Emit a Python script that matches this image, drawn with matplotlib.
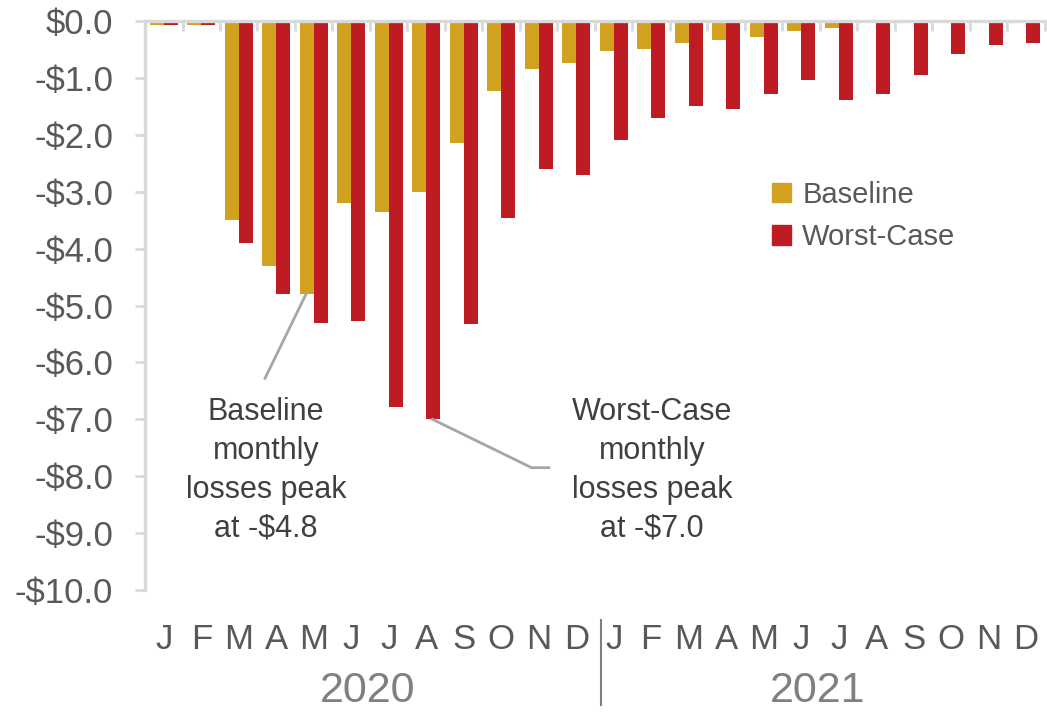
import matplotlib
matplotlib.use('Agg')
import matplotlib.pyplot as plt
import matplotlib.transforms as mtransforms
from matplotlib.patches import Patch

plt.rcParams['font.family'] = ['Liberation Sans', 'DejaVu Sans']

months = ['J', 'F', 'M', 'A', 'M', 'J', 'J', 'A', 'S', 'O', 'N', 'D'] * 2
years = ['2020', '2021']
baseline = [-0.07, -0.07, -3.5, -4.3, -4.8, -3.2, -3.35, -3.0, -2.15, -1.23, -0.84, -0.74,
            -0.53, -0.49, -0.38, -0.33, -0.28, -0.18, -0.13, 0.0, 0.0, 0.0, 0.0, 0.0]
worst = [-0.07, -0.07, -3.9, -4.8, -5.3, -5.27, -6.78, -7.0, -5.32, -3.46, -2.6, -2.7,
         -2.09, -1.7, -1.49, -1.54, -1.29, -1.04, -1.39, -1.29, -0.94, -0.58, -0.43, -0.39]
yticks = [0, -1, -2, -3, -4, -5, -6, -7, -8, -9, -10]

gold = '#D1A11F'
red = '#BE1B22'
grid_c = '#D9D9D9'
txt = '#595959'

fig = plt.figure(figsize=(10.47, 7.15), dpi=100)
ax = fig.add_axes([0.1385, 0.1748, 0.8595, 0.7958])

w = 0.373
xs = [i + 0.5 for i in range(len(months))]
ax.bar([x - w / 2 for x in xs], baseline, width=w, color=gold, label='Baseline')
ax.bar([x + w / 2 for x in xs], worst, width=w, color=red, label='Worst-Case')

ax.set_xlim(0, 24)
ax.set_ylim(-10, 0)
ax.set_yticks(yticks)
ax.set_yticklabels(['$0.0' if v == 0 else '-$%.1f' % abs(v) for v in yticks])
ax.tick_params(axis='y', length=7, width=2, color=grid_c, labelsize=25,
               labelcolor=txt, pad=16)

# x axis sits at zero (top of the axes) with month-boundary ticks hanging down
ax.xaxis.tick_top()
ax.set_xticks(range(1, 25))
ax.tick_params(axis='x', direction='in', length=7, width=2, color=grid_c,
               labeltop=False, labelbottom=False)

for s in ['right', 'bottom']:
    ax.spines[s].set_visible(False)
for s in ['left', 'top']:
    ax.spines[s].set_color(grid_c)
    ax.spines[s].set_linewidth(2.4)

trans = mtransforms.blended_transform_factory(ax.transData, ax.transAxes)
for x, m in zip(xs, months):
    ax.text(x, -0.0875, m, transform=trans, ha='center', va='center',
            fontsize=25, color=txt)
for i, yr in enumerate(years):
    ax.text(6 + 12 * i - 0.05, -0.178, yr, transform=trans, ha='center',
            va='center', fontsize=31, color='#808080')
ax.plot([12.15, 12.15], [-0.053, -0.202], transform=trans, color='#7F7F7F',
        lw=1.5, clip_on=False)

# annotations
b_i = baseline.index(min(baseline))
w_i = worst.index(min(worst))
ann_c = '#A6A6A6'
ax.plot([xs[b_i] - w / 2 - 0.02, 3.2], [baseline[b_i], -6.28], color=ann_c, lw=2)
ax.plot([xs[w_i] + w / 2 - 0.02, 10.31, 10.77], [worst[w_i], -7.85, -7.85],
        color=ann_c, lw=2)
ax.text(3.23, -7.9, 'Baseline\nmonthly\nlosses peak\nat -$%.1f' % abs(baseline[b_i]),
        ha='center', va='center', fontsize=22, color='#404040', linespacing=1.38)
ax.text(13.52, -7.9, 'Worst-Case\nmonthly\nlosses peak\nat -$%.1f' % abs(worst[w_i]),
        ha='center', va='center', fontsize=22, color='#404040', linespacing=1.38)

handles = [Patch(color=gold, label='Baseline'), Patch(color=red, label='Worst-Case')]
leg = ax.legend(handles=handles, loc='upper left', bbox_to_anchor=(0.712, 0.784),
                bbox_transform=fig.transFigure, frameon=False, fontsize=21,
                handlelength=0.65, handleheight=0.65, handletextpad=0.4,
                labelspacing=0.5)
for t in leg.get_texts():
    t.set_color(txt)

fig.savefig('out.png', dpi=100)
